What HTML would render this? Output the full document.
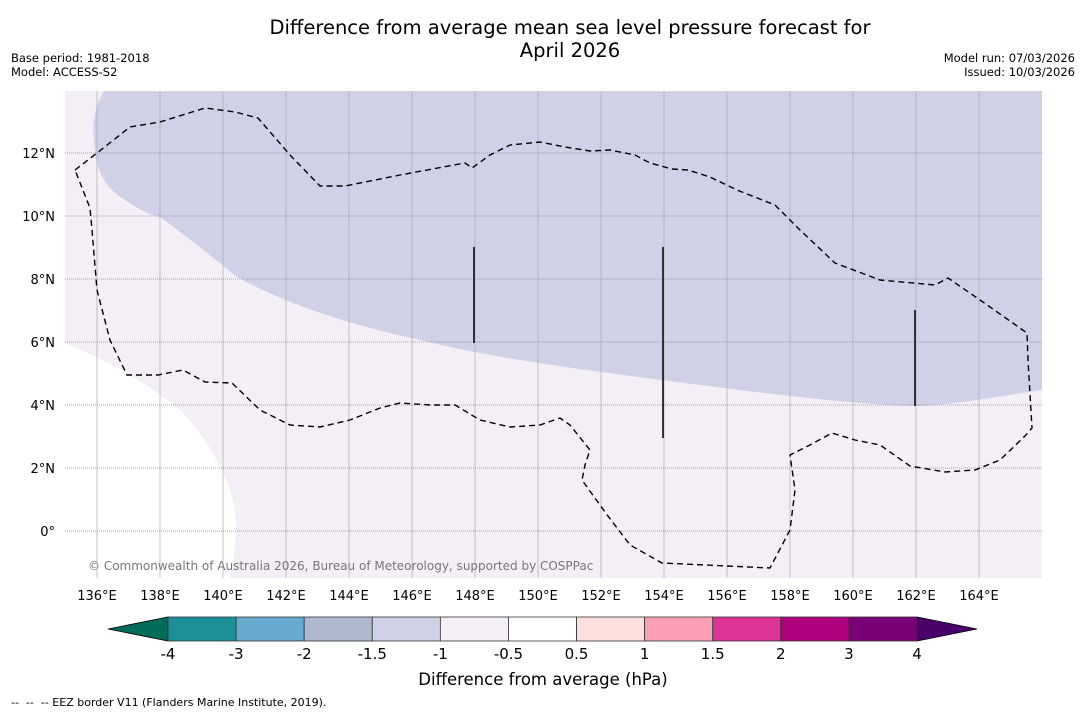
<!DOCTYPE html>
<html><head><meta charset="utf-8"><style>
body{margin:0;background:#fff;font-family:"DejaVu Sans","Liberation Sans",sans-serif}
svg text{font-family:"DejaVu Sans","Liberation Sans",sans-serif}
</style></head><body>
<svg id="chart" width="1085" height="713" viewBox="0 0 1085 713">
<text x="570" y="34" font-size="19.5" text-anchor="middle">Difference from average mean sea level pressure forecast for</text>
<text x="570" y="57" font-size="19.5" text-anchor="middle">April 2026</text>
<text x="11" y="62" font-size="11.5">Base period: 1981-2018</text>
<text x="11" y="76" font-size="11.5">Model: ACCESS-S2</text>
<text x="1075" y="62" font-size="11.5" text-anchor="end">Model run: 07/03/2026</text>
<text x="1075" y="76" font-size="11.5" text-anchor="end">Issued: 10/03/2026</text>
<g id="map"></g>
<g id="cbar"></g>
<text x="543" y="685" font-size="16.5" text-anchor="middle">Difference from average (hPa)</text>
<text x="11" y="706" font-size="11" xml:space="preserve">--  --  -- EEZ border V11 (Flanders Marine Institute, 2019).</text>
</svg>
<script>
const lonTicks=[136,138,140,142,144,146,148,150,152,154,156,158,160,162,164];
const latTicks=[0,2,4,6,8,10,12];
const cbarBounds=[-4,-3,-2,-1.5,-1,-0.5,0.5,1,1.5,2,3,4];
const cbarColors=["#1c9099","#67a9cf","#aeb8cd","#d0d1e6","#f4eef6","#ffffff","#fde0dd","#fa9fb5","#dd3497","#ae017e","#7a0177"];
const NS="http://www.w3.org/2000/svg";
const L=65,R=1042,T=91,B=578;
const xLon=lon=>97+(lon-136)*31.5, yLat=lat=>531-lat*31.5;
function mk(tag,attrs,parent){const e=document.createElementNS(NS,tag);for(const k in attrs)e.setAttribute(k,attrs[k]);parent.appendChild(e);return e;}
const map=document.getElementById('map');
let e=mk('rect',{x:L,y:T,width:R-L,height:B-T,fill:'#f4eef6'},map);


e=mk('path',{d:'M104,91 C96,105 92,120 94,140 C96,165 100,185 125,200 C140,210 150,215 160,217 C185,235 210,255 237,277 C280,300 330,320 420,340 C500,360 600,372 700,385 C800,398 880,406 920,406 C960,404 1000,396 1042,390 L1042,91 Z',fill:'#d0d1e6'},map);


e=mk('path',{d:'M65,343 C110,362 150,385 180,410 C205,435 225,470 233,500 C238,520 236,550 230,578 L65,578 Z',fill:'#ffffff'},map);


lonTicks.forEach(lon=>{const x=xLon(lon);
 e=mk('line',{x1:x,x2:x,y1:T,y2:B,stroke:'#aaa',"stroke-width":0.7},map);
 
 
 e=mk('text',{x:x,y:600,"font-size":13,"text-anchor":"middle"},map);e.textContent=lon+'°E';
 
 });
latTicks.forEach(lat=>{const y=yLat(lat);
 e=mk('line',{x1:L,x2:R,y1:y,y2:y,stroke:'#888',"stroke-width":0.8,"stroke-dasharray":"1,1"},map);
 
 
 e=mk('text',{x:55,y:y+5,"font-size":13,"text-anchor":"end"},map);e.textContent=lat===0?'0°':lat+'°N';
 
 });
e=mk('path',{d:'M75,170 L97,153 L130,127 L160,122 L205,108 L235,112 L258,118 L290,155 L320,186 L345,186 L400,175 L465,163 L472,168 L490,155 L510,145 L540,142 L565,147 L590,151 L610,150 L635,155 L650,163 L672,169 L688,170 L710,177 L737,190 L775,205 L800,230 L835,263 L880,280 L935,285 L948,278 L980,300 L1027,333 L1028,360 L1032,428 L1025,436 L1000,460 L975,470 L945,472 L910,466 L880,445 L855,440 L832,433 L810,445 L790,455 L795,490 L790,530 L770,568 L662,563 L630,545 L605,512 L582,480 L585,465 L590,450 L570,425 L560,418 L540,425 L510,427 L480,420 L455,405 L430,405 L400,403 L380,408 L350,420 L320,427 L290,425 L260,410 L232,383 L205,382 L183,370 L158,375 L127,375 L110,340 L97,290 L92,230 L90,208 Z',fill:'none',stroke:'#000',"stroke-width":1.4,"stroke-dasharray":"6,4"},map);


[[474,247,343],[663,247,438],[915,310,406]].forEach(s=>{e=mk('line',{x1:s[0],x2:s[0],y1:s[1],y2:s[2],stroke:'#000',"stroke-width":1.5},map);
 
 });
e=mk('text',{x:88,y:570,"font-size":12,fill:'#777'},map);e.textContent='© Commonwealth of Australia 2026, Bureau of Meteorology, supported by COSPPac';


const cb=document.getElementById('cbar');
const c0=168,c1=917,cy0=617,cy1=641,n=cbarColors.length,w=(c1-c0)/n;
e=mk('path',{d:`M108,629 L${c0},${cy0} L${c0},${cy1} Z`,fill:'#016c59',stroke:'#000',"stroke-width":0.8},cb);


e=mk('path',{d:`M977,629 L${c1},${cy0} L${c1},${cy1} Z`,fill:'#49006a',stroke:'#000',"stroke-width":0.8},cb);


cbarColors.forEach((c,i)=>{e=mk('rect',{x:c0+i*w,y:cy0,width:w,height:cy1-cy0,fill:c,stroke:'#333',"stroke-width":0.8},cb);
 
 });
cbarBounds.forEach((v,i)=>{e=mk('text',{x:c0+i*w,y:659,"font-size":15,"text-anchor":"middle"},cb);e.textContent=v;
 
 });
</script>
</body></html>
